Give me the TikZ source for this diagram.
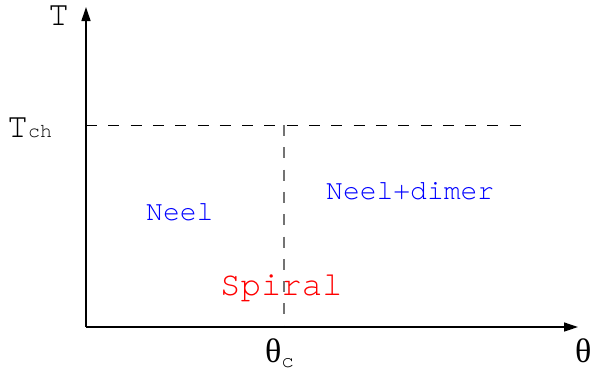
\documentclass[tikz,border=0pt]{standalone}
\usepackage{fontspec}
\setmainfont{Liberation Serif}
\newfontfamily\cour{TeX Gyre Cursor}
\usetikzlibrary{arrows.meta}
\tikzset{
  axis/.style={line width=1.3bp,-{Triangle[width=9bp,length=14bp]}},
  guide/.style={line width=1bp,dash pattern=on 11bp off 11.3bp},
  lbl/.style={inner sep=0pt,anchor=base west},
}
\begin{document}
\begin{tikzpicture}[x=1bp,y=-1bp]
\useasboundingbox (0,0) rectangle (594,375);
\coordinate (O) at (86,327);
\coordinate (xend) at (578,327);
\coordinate (yend) at (86,7);
\coordinate (hstart) at (86,125);
\coordinate (hend) at (527,125);
\coordinate (vtop) at (284,125);
\coordinate (vbot) at (284,327);
\draw[guide] (hstart) -- (hend);
\draw[guide,line width=1.3bp,color=black!55] (vtop) -- (vbot);
\draw[axis] (O) -- (xend);
\draw[axis] (O) -- (yend);
\node[lbl] (T) at (48,25) {\fontsize{35bp}{35bp}\cour T};
\node[lbl] (Tch) at (7,137) {\fontsize{35bp}{35bp}\cour T\fontsize{20bp}{20bp}\selectfont ch};
\node[lbl,text=blue] (neel) at (146,220) {\fontsize{28bp}{28bp}\cour Neel};
\node[lbl,text=blue] (neeldimer) at (326,199) {\fontsize{28bp}{28bp}\cour Neel+dimer};
\node[lbl,text=red] (spiral) at (220,295) {\fontsize{34bp}{34bp}\cour Spiral};
\node[lbl] (theta) at (575,362) {\fontsize{34bp}{34bp}\selectfont θ};
\node[lbl] (thetac) at (265,362) {\fontsize{34bp}{34bp}\selectfont θ\raisebox{-5bp}{\fontsize{21bp}{21bp}\cour c}};
\end{tikzpicture}
\end{document}
